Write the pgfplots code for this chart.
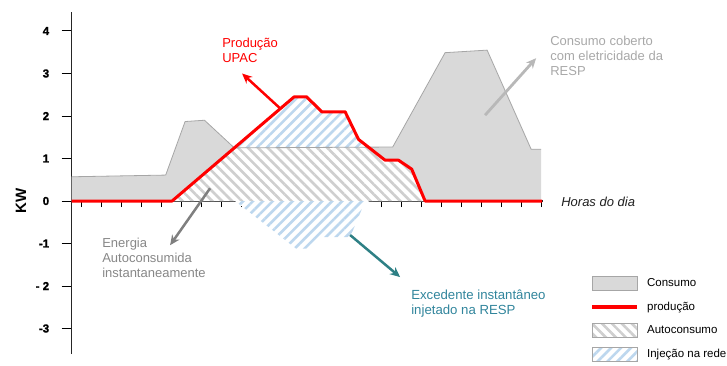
\documentclass[border=0pt]{standalone}
\usepackage{pgfplots}
\pgfplotsset{compat=1.18}
\usepackage{fontspec}
\setmainfont{Liberation Sans}
\newfontfamily\tickfont[BoldFeatures={FakeBold=1.2}]{Liberation Sans}
\usetikzlibrary{patterns.meta,arrows.meta}
\definecolor{consfill}{HTML}{D9D9D9}
\definecolor{consedge}{HTML}{A6A6A6}
\definecolor{autogray}{HTML}{CFCFCF}
\definecolor{injblue}{HTML}{BDD7EE}
\definecolor{tealtxt}{HTML}{31859C}
\definecolor{tealarr}{HTML}{2E8085}
\definecolor{resptxt}{HTML}{A8A8A8}
\definecolor{resparr}{HTML}{B8B8B8}
\definecolor{enertxt}{HTML}{878787}
\definecolor{enerarr}{HTML}{7F7F7F}
\begin{document}
\begin{tikzpicture}
\useasboundingbox (-71.7pt,-11pt) rectangle (655.3pt,354pt);
\begin{axis}[
  x=20pt, y=42.5pt,
  xmin=0.53, xmax=24.1, ymin=-3.6, ymax=4.45,
  axis x line*=middle, axis y line*=left,
  axis line style={line width=1.2pt, black!85},
  hide obscured x ticks=false, hide obscured y ticks=false,
  xtick={1,...,24}, xticklabels={},
  ytick={-3,...,4}, yticklabels={-3,- 2,-1,0,1,2,3,4},
  tick align=outside,
  major tick length=10pt,
  xtick style={/pgfplots/major tick length=6pt, line width=0.8pt, black},
  ytick style={line width=1pt, black},
  yticklabel style={font=\tickfont\bfseries\fontsize{11.6}{13}\selectfont, xshift=-9pt},
  ylabel={KW},
  every axis y label/.style={at={(rel axis cs:0,0.447)}, rotate=90, anchor=center, yshift=50.7pt, font=\bfseries\fontsize{15}{17}\selectfont},
  clip=false,
  legend style={at={(axis cs:26.45,-1.77)}, anchor=north west, draw=none, fill=none, inner sep=0pt, outer sep=0pt, row sep=9pt, column sep=6pt, font=\fontsize{11.5}{13}\selectfont},
  legend cell align=left,
]
% consumption area
\addplot[fill=consfill, draw=none, forget plot] coordinates {(0.53,0) (0.53,0.57) (5.23,0.61) (6.2,1.87) (7.17,1.9) (8.66,1.25) (16.58,1.27) (19.2,3.49) (21.3,3.55) (23.5,1.22) (24.0,1.22) (24.0,0)} -- cycle;
% autoconsumo
\addplot[fill=white, draw=none, postaction={pattern={Lines[angle=-45,distance=7pt,line width=2.6pt]}, pattern color=autogray}, forget plot] coordinates {(5.55,0) (8.66,1.25) (15.41,1.25) (16.2,0.96) (16.87,0.96) (17.53,0.75) (18.2,0)} -- cycle;
% injection above
\addplot[fill=white, draw=none, postaction={pattern={Lines[angle=45,distance=7pt,line width=2.6pt]}, pattern color=injblue}, forget plot] coordinates {(8.66,1.25) (11.65,2.45) (12.28,2.45) (13.03,2.1) (14.2,2.1) (14.87,1.45) (15.41,1.25)} -- cycle;
% injection below (mirror)
\addplot[fill=white, draw=none, postaction={pattern={Lines[angle=45,distance=7pt,line width=2.6pt]}, pattern color=injblue}, forget plot] coordinates {(8.7,0) (11.75,-1.12) (12.55,-1.12) (12.85,-0.85) (14.45,-0.85) (15.1,-0.12) (15.41,0)} -- cycle;
% consumption outline
\addplot[draw=consedge, line width=0.8pt, forget plot] coordinates {(0.53,0.57) (5.23,0.61) (6.2,1.87) (7.17,1.9) (8.66,1.25) (16.58,1.27) (19.2,3.49) (21.3,3.55) (23.5,1.22) (24.0,1.22)};
% production
\addplot[red, line width=3pt, line join=round, forget plot] coordinates {(0.53,0) (5.55,0) (11.65,2.45) (12.28,2.45) (13.03,2.1) (14.2,2.1) (14.87,1.45) (16.2,0.96) (16.87,0.96) (17.53,0.75) (18.2,0) (24.05,0)};

% legend
\addlegendimage{legend image code/.code={\draw[fill=consfill, draw=consedge, line width=0.8pt] (0pt,-7pt) rectangle (45pt,7pt);}}
\addlegendentry{Consumo}
\addlegendimage{legend image code/.code={\draw[red, line width=4pt] (0pt,0pt) -- (45pt,0pt);}}
\addlegendentry{produção}
\addlegendimage{legend image code/.code={\draw[fill=white, draw=consedge, line width=0.8pt, postaction={pattern={Lines[angle=-45,distance=7pt,line width=2.6pt]}, pattern color=autogray}] (0pt,-7pt) rectangle (45pt,7pt);}}
\addlegendentry{Autoconsumo}
\addlegendimage{legend image code/.code={\draw[fill=white, draw=consedge, line width=0.8pt, postaction={pattern={Lines[angle=45,distance=7pt,line width=2.6pt]}, pattern color=injblue}] (0pt,-7pt) rectangle (45pt,7pt);}}
\addlegendentry{Injeção na rede}

% annotations
\node[anchor=north west, inner sep=0pt, align=left, text=red, font=\fontsize{13}{15}\selectfont] at (axis cs:8.05,3.83) {Produção\\UPAC};
\node[anchor=north west, inner sep=0pt, align=left, text=resptxt, font=\fontsize{13}{15}\selectfont] at (axis cs:24.45,3.875) {Consumo coberto\\com eletricidade da\\RESP};
\node[anchor=north west, inner sep=0pt, align=left, text=enertxt, font=\fontsize{13}{15}\selectfont] at (axis cs:2.05,-0.866) {Energia\\Autoconsumida\\instantaneamente};
\node[anchor=north west, inner sep=0pt, align=left, text=tealtxt, font=\fontsize{13.2}{15}\selectfont] at (axis cs:17.5,-2.078) {Excedente instantâneo\\injetado na RESP};
\node[anchor=west, inner sep=0pt, text=black!88, font=\itshape\fontsize{13}{15}\selectfont] at (axis cs:25.0,-0.02) {Horas do dia};

\draw[-{Stealth[length=10pt,width=9pt]}, line width=2.5pt, enerarr] (axis cs:7.45,0.30) -- (axis cs:5.45,-1.04);
\draw[-{Stealth[length=10pt,width=9pt]}, line width=2.5pt, red] (axis cs:10.95,2.18) -- (axis cs:9.05,3.0);
\draw[-{Stealth[length=10pt,width=9pt]}, line width=2.8pt, resparr] (axis cs:21.2,2.02) -- (axis cs:23.75,3.36);
\draw[-{Stealth[length=10pt,width=9pt]}, line width=2.5pt, tealarr] (axis cs:14.45,-0.80) -- (axis cs:16.95,-1.79);
\end{axis}
\end{tikzpicture}
\end{document}
